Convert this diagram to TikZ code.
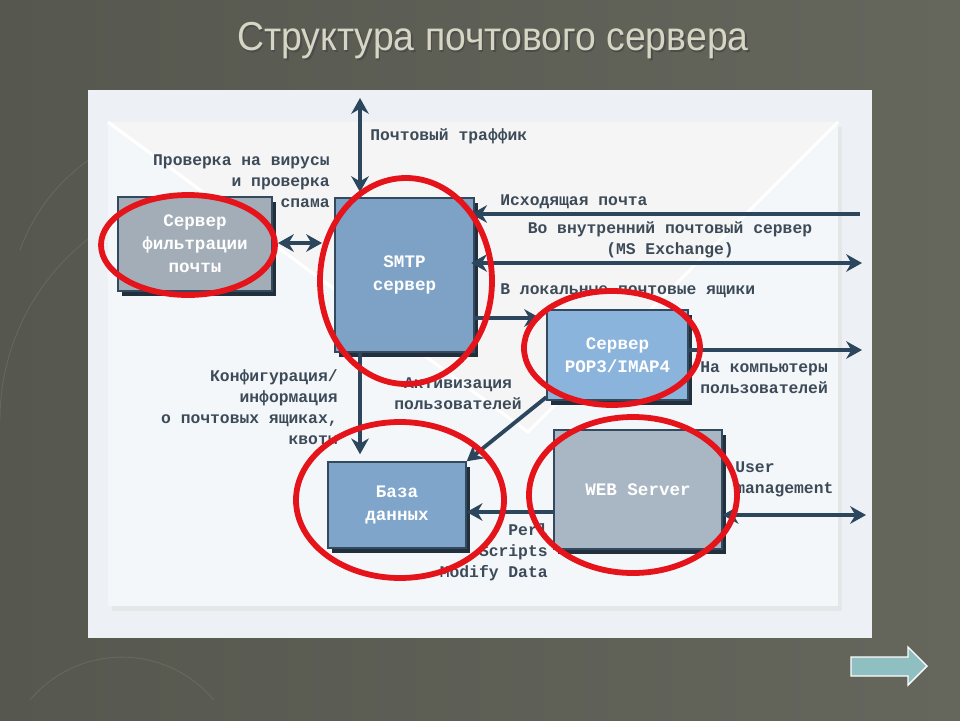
\documentclass[tikz,border=0pt]{standalone}
\usepackage{fontspec}
\newfontfamily\monofont{Liberation Mono}
\newfontfamily\titlefont{Liberation Sans}
\usepackage{xcolor}
\usetikzlibrary{positioning, arrows.meta, shadows}
\definecolor{fonl}{HTML}{56574E}
\definecolor{fonr}{HTML}{65665C}
\definecolor{panel}{HTML}{EDF1F5}
\definecolor{konvert}{HTML}{F4F7FA}
\definecolor{strel}{HTML}{2C465E}
\definecolor{podp}{HTML}{3D4B59}
\definecolor{blokkant}{HTML}{33495E}
\definecolor{blokten}{HTML}{22303D}
\definecolor{smtpcol}{HTML}{7DA2C6}
\definecolor{popcol}{HTML}{8BB4DC}
\definecolor{bazacol}{HTML}{7FA5CB}
\definecolor{filtrcol}{HTML}{A3ADB7}
\definecolor{webcol}{HTML}{A9B6C3}
\definecolor{krasn}{HTML}{E5141B}
\definecolor{zagl}{HTML}{D6D6C4}
\definecolor{dalee}{HTML}{8FBFC0}

\begin{document}
\begin{tikzpicture}[x=0.02cm, y=-0.02cm,
  blok/.style={draw=blokkant, line width=0.8pt, text=white, align=center,
    font=\monofont\bfseries\fontsize{10}{13}\selectfont,
    drop shadow={shadow xshift=2.5pt, shadow yshift=-3pt, fill=blokten, opacity=1}},
  strelka/.style={draw=strel, line width=2.2pt, -{Stealth[length=9pt,width=10pt]}},
  dvoina/.style={strelka, {Stealth[length=9pt,width=10pt]}-{Stealth[length=9pt,width=10pt]}},
  podpis/.style={text=podp, inner sep=0pt, font=\monofont\bfseries\fontsize{9.3}{12}\selectfont},
  krug/.style={draw=krasn, line width=3.3pt}]
\useasboundingbox (0,0) rectangle (960,720);
\shade[left color=fonl, right color=fonr] (0,0) rectangle (960,720);
% faint globe lines
\draw[fonr!80!white, line width=0.5pt, opacity=0.35] (20,250) arc (200:330:190);
\draw[fonr!80!white, line width=0.5pt, opacity=0.35] (0,420) arc (180:300:230);
\draw[fonr!80!white, line width=0.5pt, opacity=0.35] (30,700) arc (220:320:120);

% title
\node[text=black!70, font=\titlefont\fontsize{23}{26}\selectfont, xscale=0.925] at (494.5,42.5) {Структура почтового сервера};
\node (zagolovok) [text=zagl, font=\titlefont\fontsize{23}{26}\selectfont, xscale=0.925] at (493,41) {Структура почтового сервера};

% panel and envelope
\fill[panel] (88,90) rectangle (872,638);
\fill[black!12, opacity=0.6] (112,127) rectangle (842,611);
\fill[konvert] (108,122) rectangle (838,606);
\fill[black!4] (108,122) -- (528,432) -- (838,122) -- cycle;
\draw[white, line width=1.8pt] (108,122) -- (528,432) -- (838,122);

% nodes
\node (filtr) [blok, fill=filtrcol, minimum width=3.08cm, minimum height=1.88cm] at (195,244) {Сервер\\фильтрации\\почты};
\node (smtp) [blok, fill=smtpcol, minimum width=2.78cm, minimum height=3.08cm] at (404.5,275) {SMTP\\сервер};
\node (pop) [blok, fill=popcol, minimum width=2.82cm, minimum height=1.8cm] at (617.5,355) {Сервер\\POP3/IMAP4};
\node (baza) [blok, fill=bazacol, minimum width=2.76cm, minimum height=1.72cm] at (397,505) {База\\данных};
\node (web) [blok, fill=webcol, minimum width=3.36cm, minimum height=2.38cm] at (638,489.5) {WEB Server};

% free ends
\coordinate (verh) at (360,98);
\coordinate (vhod) at (860,214);
\coordinate (exch) at (862,263);
\coordinate (lok) at (540,318);
\coordinate (komp) at (862,350);
\coordinate (perl) at (0,512);
\coordinate (upr) at (866,515);

% connectors
\draw[dvoina, shorten >=3pt] (verh) -- (verh |- smtp.north);
\draw[dvoina, shorten <=3pt, shorten >=7pt] (filtr.east |- 0,243) -- (smtp.west |- 0,243);
\draw[strelka, shorten >=-2pt] (vhod) -- (vhod -| smtp.east);
\draw[dvoina, shorten <=-2pt] (smtp.east |- exch) -- (exch);
\draw[strelka] (smtp.east |- lok) -- (lok);
\draw[strelka] (pop.east |- komp) -- (komp);
\draw[strelka, shorten >=4pt] (verh |- smtp.south) -- (verh |- baza.north);
\draw[strelka] ([yshift=2pt]pop.south west) -- (baza.north east);
\draw[strelka] (web.west |- perl) -- (baza.east |- perl);
\draw[dvoina] (web.east |- upr) -- (upr);

% labels
\node (trafik) [podpis, anchor=west] at (370,136) {Почтовый траффик};
\node (virus) [podpis, anchor=east, align=right] at (330,181) {Проверка на вирусы\\и проверка\\спама};
\node (ishod) [podpis, anchor=west] at (500,202) {Исходящая почта};
\node (vnutr) [podpis, align=center] at (670,240) {Во внутренний почтовый сервер\\(MS Exchange)};
\node (lokal) [podpis, anchor=west] at (500,291) {В локальные почтовые ящики};
\node (kompy) [podpis, anchor=west, align=left] at (700,378) {На компьютеры\\пользователей};
\node (konf) [podpis, anchor=east, align=right] at (338,407.5) {Конфигурация/\\информация\\о почтовых ящиках,\\квоты};
\node (aktiv) [podpis, align=center] at (458,394) {Активизация\\пользователей};
\node (skript) [podpis, anchor=east, align=right] at (548,552) {Perl\\Scripts\\Modify Data};
\node (user) [podpis, anchor=west, align=left] at (735,479.5) {User\\management};

% red circles
\draw[krug] (188,245) ellipse [x radius=87, y radius=50];
\draw[krug] (406,281) ellipse [x radius=86, y radius=103];
\draw[krug] (612,348) ellipse [x radius=88, y radius=57];
\draw[krug] (400,500) ellipse [x radius=104, y radius=78];
\draw[krug] (633,495) ellipse [x radius=104, y radius=78];

% next-slide button
\filldraw[fill=dalee, draw=white, line width=0.8pt] (851,657) -- (908,657) -- (908,647) -- (927,666) -- (908,685) -- (908,676) -- (851,676) -- cycle;
\end{tikzpicture}
\end{document}
